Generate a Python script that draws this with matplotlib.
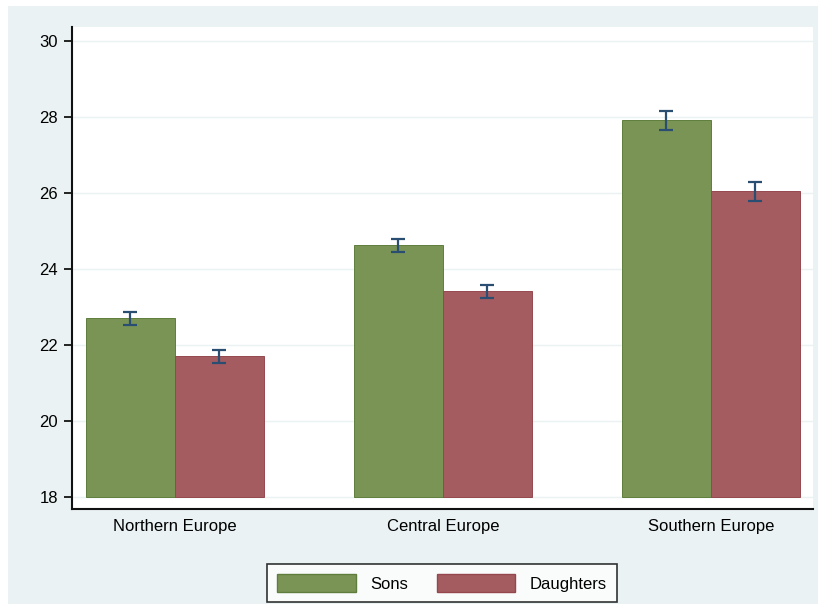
import numpy as np
import matplotlib.pyplot as plt
from matplotlib.patches import Rectangle

plt.rcParams['font.family'] = ['Liberation Sans', 'DejaVu Sans']

regions = ['Northern Europe', 'Central Europe', 'Southern Europe']
sons = [22.70, 24.62, 27.92]
daughters = [21.70, 23.41, 26.04]
sons_lo = [22.53, 24.45, 27.67]
sons_hi = [22.87, 24.79, 28.17]
daughters_lo = [21.53, 23.24, 25.78]
daughters_hi = [21.87, 23.58, 26.30]
yticks = [18, 20, 22, 24, 26, 28, 30]

green = '#7a9455'
red = '#a45c61'
navy = '#2a4e72'
band = '#eaf2f3'
base = 18

W, H = 820, 604
fig = plt.figure(figsize=(W / 100, H / 100), dpi=100, facecolor='white')
fig.patches.append(Rectangle((8 / W, 0), 810 / W, 598 / H, transform=fig.transFigure,
                             facecolor=band, edgecolor='none', zorder=-10))
ax = fig.add_axes([72 / W, 1 - 509 / H, 741 / W, 482 / H])
ax.set_facecolor('white')

x = np.arange(len(regions))
w = 0.332
s = np.array(sons)
d = np.array(daughters)
ax.bar(x - w / 2, s - base, w, bottom=base, color=green, edgecolor='#5f7d3c', linewidth=0.7, zorder=2)
ax.bar(x + w / 2, d - base, w, bottom=base, color=red, edgecolor='#94484e', linewidth=0.7, zorder=2)

for xs, mid, lo, hi in [(x - w / 2, s, sons_lo, sons_hi), (x + w / 2, d, daughters_lo, daughters_hi)]:
    err = [mid - np.array(lo), np.array(hi) - mid]
    ax.errorbar(xs, mid, yerr=err, fmt='none', ecolor=navy, elinewidth=1.6,
                capsize=5, capthick=1.6, zorder=3)

ax.set_xlim(-0.384, 2.381)
ax.set_ylim(17.68, 30.37)
ax.set_yticks(yticks)
ax.set_yticklabels([str(t) for t in yticks], fontsize=12)
ax.set_xticks(x)
ax.set_xticklabels(regions, fontsize=12)
ax.tick_params(axis='x', length=0, pad=7)
ax.tick_params(axis='y', length=6, width=1.2, color='black', pad=4)
ax.yaxis.grid(True, color=band, linewidth=1.0, zorder=0)
ax.set_axisbelow(True)

for side in ['top', 'right']:
    ax.spines[side].set_visible(False)
for side in ['left', 'bottom']:
    ax.spines[side].set_linewidth(1.5)
    ax.spines[side].set_color('#111111')

leg = fig.legend(handles=[Rectangle((0, 0), 1, 1, facecolor=green, edgecolor='#5f7d3c'),
                          Rectangle((0, 0), 1, 1, facecolor=red, edgecolor='#94484e')],
                 labels=['Sons', 'Daughters'], loc='center', ncol=2,
                 bbox_to_anchor=(442 / W, 1 - 583 / H), fontsize=12, frameon=True,
                 fancybox=False, edgecolor='black', handlelength=4.7, handleheight=1.3,
                 columnspacing=1.75, handletextpad=0.85, borderpad=0.6)
leg.get_frame().set_linewidth(1.2)

fig.savefig('out.png', dpi=100, facecolor='white')
